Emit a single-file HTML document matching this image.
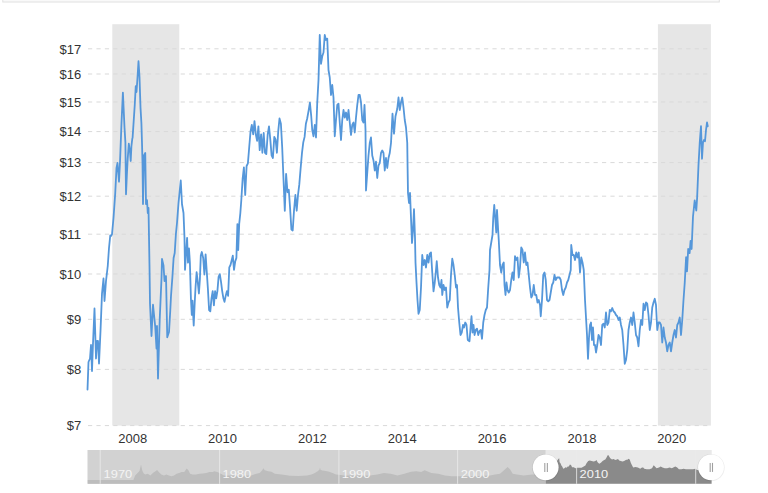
<!DOCTYPE html>
<html><head><meta charset="utf-8"><style>
html,body{margin:0;padding:0;background:#fff;width:768px;height:493px;overflow:hidden;}
svg{display:block;font-family:"Liberation Sans", sans-serif;}
</style></head><body>
<svg width="768" height="493" viewBox="0 0 768 493">
<rect x="2.8" y="-5" width="716.5" height="7" fill="#f9f9f9" stroke="#e0e0e0" stroke-width="1"/>
<rect x="112.3" y="24.2" width="67" height="401.4" fill="#e6e6e6"/>
<rect x="657.9" y="24.2" width="53" height="401.4" fill="#e6e6e6"/>
<line x1="88.0" y1="48.8" x2="709.5" y2="48.8" stroke="#d9d9d9" stroke-width="1" stroke-dasharray="4.2,4.226"/>
<line x1="88.0" y1="74" x2="709.5" y2="74" stroke="#d9d9d9" stroke-width="1" stroke-dasharray="4.2,4.226"/>
<line x1="88.0" y1="102" x2="709.5" y2="102" stroke="#d9d9d9" stroke-width="1" stroke-dasharray="4.2,4.226"/>
<line x1="88.0" y1="131.6" x2="709.5" y2="131.6" stroke="#d9d9d9" stroke-width="1" stroke-dasharray="4.2,4.226"/>
<line x1="88.0" y1="162.6" x2="709.5" y2="162.6" stroke="#d9d9d9" stroke-width="1" stroke-dasharray="4.2,4.226"/>
<line x1="88.0" y1="196.2" x2="709.5" y2="196.2" stroke="#d9d9d9" stroke-width="1" stroke-dasharray="4.2,4.226"/>
<line x1="88.0" y1="234.2" x2="709.5" y2="234.2" stroke="#d9d9d9" stroke-width="1" stroke-dasharray="4.2,4.226"/>
<line x1="88.0" y1="274" x2="709.5" y2="274" stroke="#d9d9d9" stroke-width="1" stroke-dasharray="4.2,4.226"/>
<line x1="88.0" y1="319.3" x2="709.5" y2="319.3" stroke="#d9d9d9" stroke-width="1" stroke-dasharray="4.2,4.226"/>
<line x1="88.0" y1="369.4" x2="709.5" y2="369.4" stroke="#d9d9d9" stroke-width="1" stroke-dasharray="4.2,4.226"/>
<line x1="88.0" y1="425.6" x2="709.5" y2="425.6" stroke="#d9d9d9" stroke-width="1" stroke-dasharray="4.2,4.226"/>
<text x="81.2" y="54.4" text-anchor="end" font-family='"Liberation Sans", sans-serif' font-size="12" fill="#333" textLength="21.7" lengthAdjust="spacingAndGlyphs">$17</text>
<text x="81.2" y="78.6" text-anchor="end" font-family='"Liberation Sans", sans-serif' font-size="12" fill="#333" textLength="21.7" lengthAdjust="spacingAndGlyphs">$16</text>
<text x="81.2" y="106.6" text-anchor="end" font-family='"Liberation Sans", sans-serif' font-size="12" fill="#333" textLength="21.7" lengthAdjust="spacingAndGlyphs">$15</text>
<text x="81.2" y="136.2" text-anchor="end" font-family='"Liberation Sans", sans-serif' font-size="12" fill="#333" textLength="21.7" lengthAdjust="spacingAndGlyphs">$14</text>
<text x="81.2" y="167.2" text-anchor="end" font-family='"Liberation Sans", sans-serif' font-size="12" fill="#333" textLength="21.7" lengthAdjust="spacingAndGlyphs">$13</text>
<text x="81.2" y="200.8" text-anchor="end" font-family='"Liberation Sans", sans-serif' font-size="12" fill="#333" textLength="21.7" lengthAdjust="spacingAndGlyphs">$12</text>
<text x="81.2" y="238.8" text-anchor="end" font-family='"Liberation Sans", sans-serif' font-size="12" fill="#333" textLength="21.7" lengthAdjust="spacingAndGlyphs">$11</text>
<text x="81.2" y="278.6" text-anchor="end" font-family='"Liberation Sans", sans-serif' font-size="12" fill="#333" textLength="21.7" lengthAdjust="spacingAndGlyphs">$10</text>
<text x="81.2" y="323.9" text-anchor="end" font-family='"Liberation Sans", sans-serif' font-size="12" fill="#333" textLength="14.5" lengthAdjust="spacingAndGlyphs">$9</text>
<text x="81.2" y="374.0" text-anchor="end" font-family='"Liberation Sans", sans-serif' font-size="12" fill="#333" textLength="14.5" lengthAdjust="spacingAndGlyphs">$8</text>
<text x="81.2" y="430.2" text-anchor="end" font-family='"Liberation Sans", sans-serif' font-size="12" fill="#333" textLength="14.5" lengthAdjust="spacingAndGlyphs">$7</text>
<text x="132.70" y="443.3" text-anchor="middle" font-family='"Liberation Sans", sans-serif' font-size="12" fill="#333" textLength="28.9" lengthAdjust="spacingAndGlyphs">2008</text>
<text x="222.55" y="443.3" text-anchor="middle" font-family='"Liberation Sans", sans-serif' font-size="12" fill="#333" textLength="28.9" lengthAdjust="spacingAndGlyphs">2010</text>
<text x="312.40" y="443.3" text-anchor="middle" font-family='"Liberation Sans", sans-serif' font-size="12" fill="#333" textLength="28.9" lengthAdjust="spacingAndGlyphs">2012</text>
<text x="402.25" y="443.3" text-anchor="middle" font-family='"Liberation Sans", sans-serif' font-size="12" fill="#333" textLength="28.9" lengthAdjust="spacingAndGlyphs">2014</text>
<text x="492.10" y="443.3" text-anchor="middle" font-family='"Liberation Sans", sans-serif' font-size="12" fill="#333" textLength="28.9" lengthAdjust="spacingAndGlyphs">2016</text>
<text x="581.95" y="443.3" text-anchor="middle" font-family='"Liberation Sans", sans-serif' font-size="12" fill="#333" textLength="28.9" lengthAdjust="spacingAndGlyphs">2018</text>
<text x="671.80" y="443.3" text-anchor="middle" font-family='"Liberation Sans", sans-serif' font-size="12" fill="#333" textLength="28.9" lengthAdjust="spacingAndGlyphs">2020</text>
<path d="M87.50,389.50 L88.50,362.00 L90.00,358.50 L91.00,345.00 L92.00,371.00 L93.00,343.50 L94.50,308.50 L96.00,358.50 L97.00,341.00 L98.00,341.00 L99.00,363.50 L100.50,331.00 L102.00,293.50 L103.50,278.50 L104.50,301.00 L106.00,281.00 L107.75,266.00 L109.00,248.00 L110.25,235.50 L111.00,236.00 L112.00,234.25 L113.50,218.00 L115.25,193.00 L116.50,168.00 L117.50,163.00 L119.00,181.75 L120.00,162.00 L121.50,123.00 L122.90,92.60 L124.50,127.50 L125.40,142.40 L126.00,194.25 L127.00,172.00 L127.70,159.00 L128.80,143.70 L130.00,152.00 L130.70,161.00 L131.40,146.40 L132.25,139.00 L132.60,137.60 L134.75,105.00 L135.75,86.25 L136.50,92.00 L137.50,77.50 L138.50,61.25 L139.50,77.00 L140.50,107.50 L141.40,123.00 L142.00,143.00 L142.50,163.00 L143.00,204.00 L144.00,155.50 L145.25,153.00 L146.00,204.00 L147.00,200.00 L147.75,213.00 L148.50,208.00 L149.50,266.00 L150.00,303.50 L151.50,336.00 L153.00,304.75 L155.25,327.00 L156.50,348.50 L157.00,326.00 L158.00,378.50 L159.75,318.50 L161.50,278.50 L162.00,259.00 L163.50,265.50 L164.50,281.00 L166.00,276.00 L167.25,337.25 L169.00,332.00 L170.25,311.00 L171.00,296.00 L172.40,277.00 L173.60,258.00 L174.70,253.00 L175.90,234.00 L177.00,223.00 L178.50,203.00 L179.50,193.00 L180.75,180.50 L182.00,204.25 L183.50,213.00 L184.50,238.00 L185.00,269.80 L187.10,237.80 L188.00,262.70 L189.00,248.50 L189.90,262.70 L190.90,298.30 L191.80,314.90 L192.50,300.60 L193.70,325.50 L194.70,303.00 L195.60,286.40 L196.60,272.20 L197.50,279.30 L198.90,293.50 L199.90,279.30 L200.80,255.60 L201.80,252.00 L203.20,258.00 L204.40,274.50 L205.60,254.40 L206.80,272.20 L207.90,288.80 L209.10,310.10 L210.30,311.30 L211.50,298.30 L212.70,291.10 L213.90,305.40 L215.10,291.10 L216.20,298.30 L217.40,291.10 L218.60,276.90 L219.80,274.10 L221.00,281.70 L222.20,291.10 L223.40,298.30 L224.50,301.80 L225.70,295.90 L226.90,291.10 L228.10,295.90 L229.30,267.40 L230.50,265.00 L231.70,260.30 L232.80,255.60 L234.00,269.80 L235.20,261.50 L236.40,257.90 L237.40,224.10 L238.20,250.00 L239.20,224.00 L240.30,213.50 L241.30,200.30 L242.60,179.20 L243.90,167.30 L245.20,195.00 L246.60,166.00 L247.90,163.30 L249.20,147.50 L250.50,131.70 L251.80,125.00 L253.20,134.30 L254.50,121.10 L255.80,134.30 L257.10,140.90 L258.40,126.40 L259.70,150.10 L261.10,134.30 L262.40,152.80 L263.70,133.00 L265.00,152.80 L266.30,154.10 L267.70,134.30 L269.00,126.40 L270.30,139.60 L271.60,155.40 L272.90,158.00 L274.30,136.90 L275.60,139.60 L276.90,152.80 L278.20,131.70 L279.50,118.50 L280.90,123.70 L282.20,147.50 L283.50,179.20 L284.80,210.80 L286.10,173.90 L287.50,192.30 L288.80,189.70 L290.10,208.20 L291.40,229.50 L292.70,230.50 L294.00,210.80 L295.40,195.00 L296.70,210.80 L298.00,195.00 L299.30,184.40 L300.60,168.60 L302.00,152.80 L303.30,142.20 L304.60,136.90 L305.90,123.70 L307.20,118.50 L308.60,110.60 L309.90,102.60 L311.20,115.80 L312.25,130.00 L313.50,136.25 L314.75,125.00 L316.00,137.50 L317.25,102.50 L318.50,80.00 L319.75,35.00 L321.00,63.75 L322.25,56.25 L323.50,52.50 L324.75,35.00 L326.00,40.00 L327.25,38.75 L328.50,70.00 L329.75,77.50 L331.00,95.00 L332.25,85.00 L333.50,97.50 L334.75,136.25 L336.00,120.00 L337.25,105.00 L338.50,103.75 L339.75,122.50 L341.00,140.00 L342.25,120.00 L343.50,110.00 L344.75,117.50 L346.00,112.50 L347.25,120.00 L348.50,110.00 L349.75,122.50 L351.00,135.00 L352.25,125.00 L353.50,122.50 L354.75,132.50 L356.00,117.50 L357.25,105.00 L358.50,95.00 L359.75,95.00 L361.00,102.50 L362.25,120.00 L363.50,122.50 L364.50,105.00 L365.50,130.00 L366.00,190.50 L367.25,173.00 L368.50,155.50 L369.75,143.00 L371.00,137.50 L372.25,155.50 L373.50,160.50 L374.75,170.50 L376.00,161.75 L377.25,178.00 L378.50,165.50 L379.75,163.00 L381.00,153.00 L382.25,150.50 L383.50,153.00 L384.75,170.50 L386.00,158.00 L387.25,168.00 L388.50,158.00 L389.75,153.00 L391.00,143.00 L392.50,113.75 L394.00,133.75 L395.50,116.25 L397.25,108.75 L398.50,97.50 L399.75,110.00 L401.00,102.50 L402.25,97.50 L403.50,107.50 L404.75,120.00 L406.00,127.50 L407.25,143.00 L407.60,168.00 L408.00,193.00 L409.00,203.00 L410.00,193.00 L411.00,218.00 L412.00,243.00 L413.00,230.50 L414.00,209.25 L415.00,238.00 L415.50,262.50 L416.50,282.50 L417.50,300.00 L418.50,313.75 L419.75,310.00 L421.00,287.50 L422.25,255.00 L423.50,265.00 L424.75,260.00 L426.00,267.50 L427.25,255.00 L428.50,262.50 L429.75,253.75 L431.00,252.50 L432.25,272.50 L433.50,291.25 L434.75,282.50 L436.00,270.00 L436.75,261.25 L438.00,277.50 L439.25,285.00 L440.50,287.50 L441.50,280.00 L442.25,295.00 L443.50,285.00 L444.75,290.00 L446.00,287.50 L447.25,307.50 L448.50,302.50 L449.75,300.00 L451.00,275.00 L452.25,258.75 L453.50,265.00 L454.75,275.00 L456.00,287.50 L457.00,285.00 L458.00,307.50 L459.25,322.50 L460.50,335.00 L461.75,332.50 L463.00,325.00 L464.00,327.50 L465.25,322.50 L466.50,325.00 L467.75,340.00 L469.50,341.25 L470.75,325.00 L471.50,316.25 L472.50,332.50 L473.50,325.00 L474.50,335.00 L475.75,330.00 L477.00,328.75 L478.25,335.00 L479.50,331.25 L480.75,330.00 L482.00,338.75 L483.25,322.50 L484.50,315.00 L485.75,310.00 L487.00,307.50 L488.25,287.50 L489.50,270.00 L490.00,250.00 L491.25,242.50 L492.50,235.00 L493.25,217.50 L494.25,205.00 L495.00,215.00 L496.25,232.50 L497.00,210.00 L498.00,227.50 L498.75,240.00 L500.00,265.00 L501.25,272.50 L502.50,265.00 L503.75,262.50 L504.50,285.00 L505.50,295.00 L506.50,282.50 L507.50,290.00 L508.75,292.50 L510.00,290.00 L511.25,280.00 L512.50,272.50 L513.75,280.00 L515.00,256.25 L516.25,260.00 L517.50,257.50 L518.75,277.50 L520.00,267.50 L521.25,247.50 L522.50,250.00 L523.75,262.50 L525.00,252.50 L526.25,265.00 L527.50,262.50 L528.75,275.00 L530.00,287.50 L531.25,297.50 L532.50,295.00 L533.75,285.00 L535.00,295.00 L536.25,295.00 L537.50,302.50 L538.75,300.00 L540.00,305.00 L540.75,316.25 L542.00,300.00 L543.25,275.00 L544.50,272.50 L545.75,280.00 L547.00,300.00 L548.25,301.25 L549.50,300.00 L550.75,292.50 L552.00,285.00 L553.25,282.50 L554.50,275.00 L555.75,280.00 L557.00,277.50 L559.50,277.50 L560.75,280.00 L562.00,290.00 L563.25,295.00 L564.50,290.00 L565.75,287.50 L567.00,282.50 L568.25,280.00 L569.50,275.00 L570.75,270.00 L571.25,245.00 L572.50,255.00 L573.75,255.00 L575.00,260.00 L576.25,252.50 L577.50,257.50 L578.75,252.50 L580.00,272.50 L581.25,257.50 L582.50,262.50 L583.75,270.00 L585.00,300.00 L586.00,317.50 L587.00,335.00 L588.00,358.75 L589.00,337.50 L590.00,325.00 L591.00,322.50 L592.00,340.00 L593.00,327.50 L594.00,345.00 L595.00,345.00 L596.00,352.50 L597.25,345.00 L598.50,335.00 L599.75,337.50 L601.00,345.00 L602.25,325.00 L603.50,323.75 L604.75,327.50 L606.00,312.50 L607.25,325.00 L608.50,322.50 L609.75,310.00 L611.00,311.25 L612.25,308.00 L613.50,311.25 L614.75,312.50 L616.00,315.00 L617.25,316.25 L618.50,320.00 L619.75,317.50 L621.00,325.00 L622.25,330.00 L623.50,345.00 L624.75,363.75 L626.00,360.00 L627.25,350.00 L628.50,330.00 L629.75,322.50 L631.00,317.50 L632.25,325.00 L633.50,312.50 L634.75,322.50 L636.00,335.00 L637.25,337.50 L638.50,346.25 L639.75,330.00 L641.00,320.00 L642.25,325.00 L643.50,303.75 L644.75,310.00 L646.00,302.50 L647.25,303.75 L648.50,315.00 L649.75,330.00 L651.00,322.50 L652.25,307.50 L653.50,302.50 L654.75,298.75 L656.00,305.00 L657.25,330.00 L658.50,322.50 L659.75,322.50 L661.00,325.00 L662.25,342.50 L663.50,327.50 L664.75,337.50 L666.00,342.50 L667.25,351.25 L668.50,345.00 L669.75,342.50 L671.00,351.25 L672.25,342.50 L673.50,335.00 L674.75,330.00 L676.00,337.50 L677.25,325.00 L678.50,322.50 L679.75,317.50 L681.00,335.00 L682.25,320.00 L683.50,300.00 L684.75,282.50 L686.10,257.20 L687.00,271.40 L688.20,249.00 L689.60,253.10 L690.60,240.90 L691.60,249.00 L693.00,216.50 L694.70,200.30 L696.30,210.50 L697.10,198.30 L698.50,165.00 L699.75,142.50 L701.00,126.25 L702.00,158.75 L703.00,142.50 L704.00,140.00 L705.00,141.25 L706.00,130.00 L707.00,122.50 L707.75,126.25" fill="none" stroke="#5597da" stroke-width="1.8" stroke-linejoin="round" stroke-linecap="round"/>
<defs><clipPath id="selc"><rect x="545.8" y="449" width="166" height="36"/></clipPath><clipPath id="unsel"><rect x="87.5" y="449" width="458.3" height="36"/></clipPath></defs>
<rect x="87.5" y="450" width="458.3" height="33.8" fill="#d2d2d2"/>
<rect x="545.8" y="450" width="165.9" height="33.8" fill="#e9e9e9"/>
<path d="M87.5,483.8 L87.5,480.1 L133.4,480.1 L135.1,475.4 L137.6,473.0 L139.5,471.0 L141.0,464.4 L142.4,471.0 L143.8,473.5 L145.2,474.5 L147.8,473.7 L150.3,475.4 L152.9,472.9 L155.4,471.2 L157.1,470.0 L158.8,472.0 L161.3,474.5 L163.9,475.4 L166.4,474.5 L168.9,475.4 L171.5,476.2 L174.0,475.4 L176.6,473.7 L179.1,472.9 L181.6,472.0 L184.2,472.0 L186.7,468.6 L188.4,470.3 L190.1,473.7 L192.6,474.5 L196.0,474.5 L199.4,473.7 L202.8,473.4 L206.2,472.9 L209.6,472.0 L213.0,472.0 L214.0,471.2 L217.4,472.0 L220.8,473.7 L224.0,475.4 L230.0,475.4 L245.0,475.4 L251.2,475.4 L256.3,473.7 L259.7,472.9 L262.2,470.3 L263.4,468.3 L264.8,470.3 L268.2,471.2 L271.5,471.7 L274.9,473.7 L281.7,474.5 L290.0,475.7 L298.5,475.9 L307.0,475.4 L311.3,474.4 L313.9,473.6 L317.3,471.4 L319.4,469.7 L320.0,467.6 L320.5,469.7 L322.4,470.6 L325.8,471.0 L329.2,471.8 L332.6,473.1 L336.0,474.4 L338.6,474.8 L344.0,475.4 L354.0,475.4 L370.0,475.4 L377.2,474.5 L384.0,472.9 L390.8,473.7 L397.5,475.4 L404.3,473.7 L411.1,471.7 L416.2,471.2 L421.2,472.0 L424.6,470.3 L427.2,471.2 L431.4,472.9 L438.2,473.7 L444.9,475.4 L451.7,476.2 L456.0,476.2 L470.0,476.2 L490.0,475.4 L495.0,474.5 L500.0,473.7 L504.0,470.3 L507.6,466.9 L510.2,469.5 L512.7,473.7 L516.9,474.5 L523.7,475.4 L532.0,474.5 L540.0,475.0 L545.0,475.0 L550.0,470.0 L555.0,464.0 L558.3,458.9 L559.2,458.3 L559.6,462.2 L560.5,463.3 L561.4,465.5 L562.2,466.6 L563.3,468.8 L564.4,468.3 L565.5,467.2 L566.6,467.7 L567.7,466.6 L568.8,466.6 L569.9,464.4 L571.0,464.9 L572.1,467.2 L573.8,467.2 L575.4,468.3 L577.1,467.7 L579.3,467.7 L581.5,467.7 L583.7,466.6 L585.4,465.5 L586.5,463.3 L588.2,461.1 L589.8,460.5 L591.5,461.1 L593.7,461.6 L595.4,461.1 L596.5,460.0 L597.6,462.2 L599.2,463.8 L600.9,462.7 L602.6,461.1 L604.2,460.0 L605.3,459.4 L606.4,457.7 L607.5,455.5 L608.3,455.0 L609.2,456.6 L610.3,458.3 L612.0,459.4 L613.6,458.9 L615.3,460.0 L616.9,459.4 L618.0,458.9 L619.2,460.5 L620.8,461.1 L622.5,461.6 L624.1,461.1 L625.8,460.0 L627.5,459.4 L626.8,460.5 L628.5,458.8 L629.7,459.4 L630.9,462.9 L632.0,465.2 L633.2,467.6 L635.5,467.0 L637.9,467.6 L640.2,468.8 L642.0,467.6 L643.2,467.6 L644.3,468.8 L646.7,469.3 L649.6,469.3 L652.0,468.2 L653.7,465.2 L654.9,466.4 L656.6,468.2 L659.0,467.6 L660.7,466.4 L662.5,467.6 L664.8,468.2 L667.2,468.2 L669.5,467.6 L671.9,468.2 L674.2,467.0 L675.4,466.4 L677.2,467.6 L678.9,469.3 L681.3,469.3 L683.6,468.8 L685.9,469.3 L688.3,469.3 L690.6,469.3 L693.0,469.3 L695.3,468.8 L697.1,469.9 L701.2,470.2 L710.6,470.2 L711.7,470.2 L711.7,483.8 Z" fill="#bdbdbd" clip-path="url(#unsel)"/>
<path d="M87.5,483.8 L87.5,480.1 L133.4,480.1 L135.1,475.4 L137.6,473.0 L139.5,471.0 L141.0,464.4 L142.4,471.0 L143.8,473.5 L145.2,474.5 L147.8,473.7 L150.3,475.4 L152.9,472.9 L155.4,471.2 L157.1,470.0 L158.8,472.0 L161.3,474.5 L163.9,475.4 L166.4,474.5 L168.9,475.4 L171.5,476.2 L174.0,475.4 L176.6,473.7 L179.1,472.9 L181.6,472.0 L184.2,472.0 L186.7,468.6 L188.4,470.3 L190.1,473.7 L192.6,474.5 L196.0,474.5 L199.4,473.7 L202.8,473.4 L206.2,472.9 L209.6,472.0 L213.0,472.0 L214.0,471.2 L217.4,472.0 L220.8,473.7 L224.0,475.4 L230.0,475.4 L245.0,475.4 L251.2,475.4 L256.3,473.7 L259.7,472.9 L262.2,470.3 L263.4,468.3 L264.8,470.3 L268.2,471.2 L271.5,471.7 L274.9,473.7 L281.7,474.5 L290.0,475.7 L298.5,475.9 L307.0,475.4 L311.3,474.4 L313.9,473.6 L317.3,471.4 L319.4,469.7 L320.0,467.6 L320.5,469.7 L322.4,470.6 L325.8,471.0 L329.2,471.8 L332.6,473.1 L336.0,474.4 L338.6,474.8 L344.0,475.4 L354.0,475.4 L370.0,475.4 L377.2,474.5 L384.0,472.9 L390.8,473.7 L397.5,475.4 L404.3,473.7 L411.1,471.7 L416.2,471.2 L421.2,472.0 L424.6,470.3 L427.2,471.2 L431.4,472.9 L438.2,473.7 L444.9,475.4 L451.7,476.2 L456.0,476.2 L470.0,476.2 L490.0,475.4 L495.0,474.5 L500.0,473.7 L504.0,470.3 L507.6,466.9 L510.2,469.5 L512.7,473.7 L516.9,474.5 L523.7,475.4 L532.0,474.5 L540.0,475.0 L545.0,475.0 L550.0,470.0 L555.0,464.0 L558.3,458.9 L559.2,458.3 L559.6,462.2 L560.5,463.3 L561.4,465.5 L562.2,466.6 L563.3,468.8 L564.4,468.3 L565.5,467.2 L566.6,467.7 L567.7,466.6 L568.8,466.6 L569.9,464.4 L571.0,464.9 L572.1,467.2 L573.8,467.2 L575.4,468.3 L577.1,467.7 L579.3,467.7 L581.5,467.7 L583.7,466.6 L585.4,465.5 L586.5,463.3 L588.2,461.1 L589.8,460.5 L591.5,461.1 L593.7,461.6 L595.4,461.1 L596.5,460.0 L597.6,462.2 L599.2,463.8 L600.9,462.7 L602.6,461.1 L604.2,460.0 L605.3,459.4 L606.4,457.7 L607.5,455.5 L608.3,455.0 L609.2,456.6 L610.3,458.3 L612.0,459.4 L613.6,458.9 L615.3,460.0 L616.9,459.4 L618.0,458.9 L619.2,460.5 L620.8,461.1 L622.5,461.6 L624.1,461.1 L625.8,460.0 L627.5,459.4 L626.8,460.5 L628.5,458.8 L629.7,459.4 L630.9,462.9 L632.0,465.2 L633.2,467.6 L635.5,467.0 L637.9,467.6 L640.2,468.8 L642.0,467.6 L643.2,467.6 L644.3,468.8 L646.7,469.3 L649.6,469.3 L652.0,468.2 L653.7,465.2 L654.9,466.4 L656.6,468.2 L659.0,467.6 L660.7,466.4 L662.5,467.6 L664.8,468.2 L667.2,468.2 L669.5,467.6 L671.9,468.2 L674.2,467.0 L675.4,466.4 L677.2,467.6 L678.9,469.3 L681.3,469.3 L683.6,468.8 L685.9,469.3 L688.3,469.3 L690.6,469.3 L693.0,469.3 L695.3,468.8 L697.1,469.9 L701.2,470.2 L710.6,470.2 L711.7,470.2 L711.7,483.8 Z" fill="#8a8a8a" clip-path="url(#selc)"/>
<line x1="100.2" y1="450" x2="100.2" y2="483.8" stroke="#ececec" stroke-width="1" opacity="0.8"/>
<line x1="219.6" y1="450" x2="219.6" y2="483.8" stroke="#ececec" stroke-width="1" opacity="0.8"/>
<line x1="338.9" y1="450" x2="338.9" y2="483.8" stroke="#ececec" stroke-width="1" opacity="0.8"/>
<line x1="457.6" y1="450" x2="457.6" y2="483.8" stroke="#ececec" stroke-width="1" opacity="0.8"/>
<line x1="576.6" y1="450" x2="576.6" y2="483.8" stroke="#ececec" stroke-width="1" opacity="0.8"/>
<line x1="695.7" y1="450" x2="695.7" y2="483.8" stroke="#ececec" stroke-width="1" opacity="0.8"/>
<text x="103.6" y="477.9" font-family='"Liberation Sans", sans-serif' font-size="11" fill="#f4f4f4" textLength="28.6" lengthAdjust="spacingAndGlyphs">1970</text>
<text x="222.5" y="477.9" font-family='"Liberation Sans", sans-serif' font-size="11" fill="#f4f4f4" textLength="28.6" lengthAdjust="spacingAndGlyphs">1980</text>
<text x="341.8" y="477.9" font-family='"Liberation Sans", sans-serif' font-size="11" fill="#f4f4f4" textLength="28.6" lengthAdjust="spacingAndGlyphs">1990</text>
<text x="460.8" y="477.9" font-family='"Liberation Sans", sans-serif' font-size="11" fill="#f4f4f4" textLength="28.6" lengthAdjust="spacingAndGlyphs">2000</text>
<text x="579.6" y="477.9" font-family='"Liberation Sans", sans-serif' font-size="11" fill="#f4f4f4" textLength="28.6" lengthAdjust="spacingAndGlyphs">2010</text>
<circle cx="545.7" cy="467.6" r="13.7" fill="#000" opacity="0.07"/>
<circle cx="545.7" cy="467.3" r="12.9" fill="#ffffff"/>
<line x1="544.8" y1="462.9" x2="544.8" y2="471.9" stroke="#a0a0a0" stroke-width="1.1"/>
<line x1="547.35" y1="462.9" x2="547.35" y2="471.9" stroke="#a0a0a0" stroke-width="1.1"/>
<circle cx="711.0" cy="467.6" r="13.7" fill="#000" opacity="0.07"/>
<circle cx="711.0" cy="467.3" r="12.9" fill="#ffffff"/>
<line x1="710.2" y1="462.9" x2="710.2" y2="471.9" stroke="#a0a0a0" stroke-width="1.1"/>
<line x1="712.5" y1="462.9" x2="712.5" y2="471.9" stroke="#a0a0a0" stroke-width="1.1"/>
</svg>
</body></html>
